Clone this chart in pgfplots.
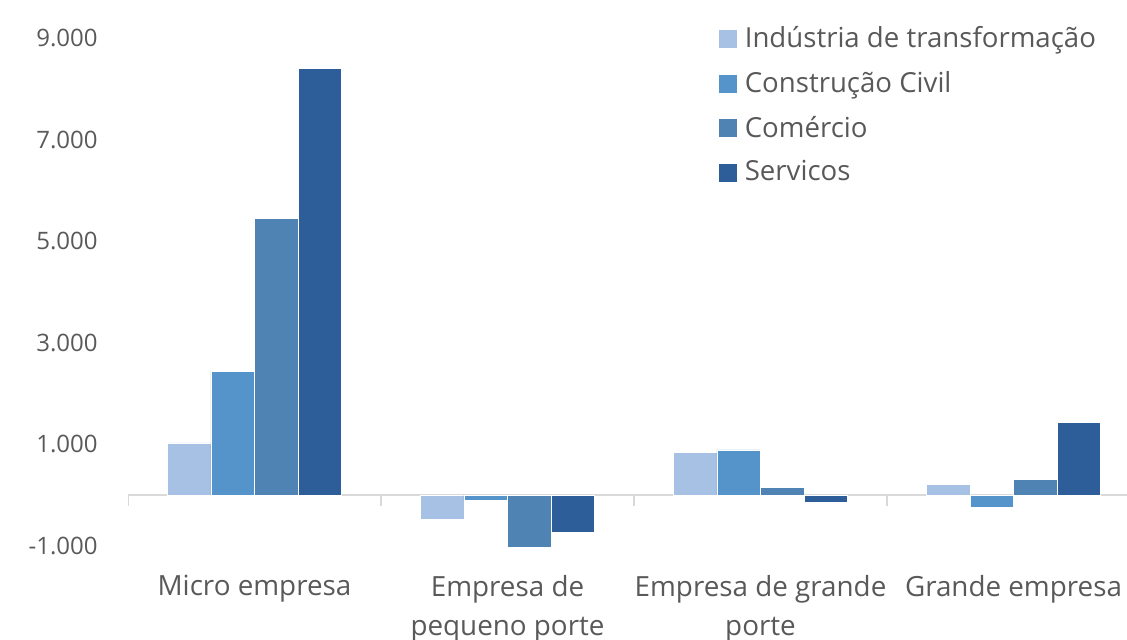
\documentclass[border=0pt]{standalone}
\usepackage{fontspec}
\setmainfont{Open Sans}
\usepackage{pgfplots}
\pgfplotsset{compat=1.18}
\definecolor{cA}{HTML}{A6C1E3}
\definecolor{cB}{HTML}{5594CB}
\definecolor{cC}{HTML}{4E83B4}
\definecolor{cD}{HTML}{2D5E99}
\definecolor{txtgray}{HTML}{595959}
\definecolor{axgray}{HTML}{D9D9D9}
\begin{document}
\fontsize{12}{14}\selectfont
\begin{tikzpicture}
\useasboundingbox (0,0) rectangle (563.5pt,319.5pt);
\begin{axis}[
  at={(64pt,46.5pt)}, anchor=south west,
  scale only axis, width=499.5pt, height=254pt,
  xmin=-0.5, xmax=3.4486, ymin=-1000, ymax=9000,
  axis line style={draw=none},
  major tick length=0pt,
  xtick={0,1,2,3},
  xticklabels={Micro empresa,{Empresa de\\pequeno porte},{Empresa de grande\\porte},Grande empresa},
  xticklabel style={align=center, anchor=north, yshift=-10.5pt, font=\fontsize{13.9}{19.5}\selectfont, text=txtgray},
  ytick={-1000,1000,3000,5000,7000,9000},
  yticklabels={-1.000,1.000,3.000,5.000,7.000,9.000},
  yticklabel style={anchor=east, xshift=-11pt, font=\fontsize{12}{14}\selectfont, text=txtgray},
  extra y ticks={0}, extra y tick labels={},
  extra y tick style={grid=major, major grid style={color=axgray, line width=1pt}},
  ybar=0pt, bar width=0.172,
  legend image code/.code={\path[#1, draw=none] (0pt,-4.5pt) rectangle (9pt,4.5pt);},
  legend style={at={(0.585,1.039)}, anchor=north west, draw=none, fill=none,
    row sep=6pt, font=\fontsize{13.8}{16}\selectfont, text=txtgray,
    /tikz/every odd column/.append style={column sep=2pt},
    /tikz/every even column/.append style={column sep=1pt}},
  legend cell align=left,
]
\addplot[fill=cA, draw=white, line width=0.3pt] coordinates {(0,1030) (1,-480) (2,846) (3,217)};
\addplot[fill=cB, draw=white, line width=0.3pt] coordinates {(0,2441) (1,-100) (2,892) (3,-242)};
\addplot[fill=cC, draw=white, line width=0.3pt] coordinates {(0,5453) (1,-1057) (2,157) (3,315)};
\addplot[fill=cD, draw=white, line width=0.3pt] coordinates {(0,8400) (1,-735) (2,-144) (3,1437)};
\legend{Indústria de transformação,Construção Civil,Comércio,Servicos}
\draw[axgray, line width=1pt] (axis cs:-0.5,0) -- ([yshift=-5.5pt]axis cs:-0.5,0);
\draw[axgray, line width=1pt] (axis cs:0.5,0) -- ([yshift=-5.5pt]axis cs:0.5,0);
\draw[axgray, line width=1pt] (axis cs:1.5,0) -- ([yshift=-5.5pt]axis cs:1.5,0);
\draw[axgray, line width=1pt] (axis cs:2.5,0) -- ([yshift=-5.5pt]axis cs:2.5,0);
\end{axis}
\end{tikzpicture}
\end{document}
